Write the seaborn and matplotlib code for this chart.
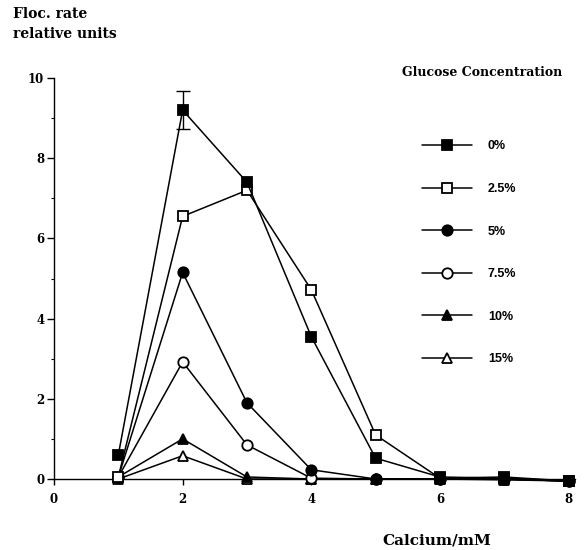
import numpy as np
import pandas as pd
import matplotlib
matplotlib.use("Agg")
import matplotlib.pyplot as plt
from matplotlib.lines import Line2D
import seaborn as sns

sns.set_style("ticks")
plt.rcParams.update({"text.color": "black", "axes.labelcolor": "black",
                     "xtick.color": "black", "ytick.color": "black",
                     "axes.edgecolor": "black"})

calcium = [1, 2, 3, 4, 5, 6, 7, 8]
glucose_labels = ["0%", "2.5%", "5%", "7.5%", "10%", "15%"]
rate_0 = [0.6, 9.2, 7.4, 3.55, 0.52, 0.05, 0.02, -0.05]
rate_2_5 = [0.05, 6.55, 7.2, 4.72, 1.1, 0.02, 0.05, -0.05]
rate_5 = [0.05, 5.15, 1.9, 0.23, 0.0, 0.0, 0.0, -0.05]
rate_7_5 = [0.05, 2.92, 0.85, 0.02, 0.0, 0.0, 0.0, -0.05]
rate_10 = [0.05, 1.0, 0.05, 0.0, 0.0, 0.0, 0.0, -0.05]
rate_15 = [0.0, 0.58, 0.0, 0.0, 0.0, 0.0, -0.02, -0.05]
err_x = [2]
err_y = [9.2]
err_val = [0.47]

series = [rate_0, rate_2_5, rate_5, rate_7_5, rate_10, rate_15]
markers = ["s", "s", "o", "o", "^", "^"]
faces = ["black", "white", "black", "white", "black", "white"]
sizes = [7.5, 7.5, 7.5, 7.5, 7, 7]

rows = []
for lab, vals in zip(glucose_labels, series):
    for c, v in zip(calcium, vals):
        rows.append({"Calcium": c, "Rate": v, "Glucose": lab})
df = pd.DataFrame(rows)

fig = plt.figure(figsize=(5.86, 5.5), dpi=100)
ax = fig.add_axes([54/586, 1-479/550, 521/586, 401/550])

serif = ["DejaVu Serif"]
sans = ["Liberation Sans", "DejaVu Sans"]

order = list(range(len(glucose_labels)))[::-1]
for i in order:
    sub = df[df["Glucose"] == glucose_labels[i]]
    sns.lineplot(data=sub, x="Calcium", y="Rate", ax=ax, color="black",
                 linewidth=1.1, marker=markers[i], markersize=sizes[i],
                 markerfacecolor=faces[i], markeredgecolor="black",
                 markeredgewidth=1.3, clip_on=False, zorder=3 + (5 - i),
                 legend=False)

ax.errorbar(err_x, err_y, yerr=err_val, fmt="none", ecolor="black",
            elinewidth=1.0, capsize=5, capthick=1.0, zorder=2)

ax.set_xlim(0, 8.1)
ax.set_ylim(0, 10)
ax.set_xticks([0, 2, 4, 6, 8])
ax.set_yticks([0, 2, 4, 6, 8, 10])
ax.set_yticks([1, 3, 5, 7, 9], minor=True)
ax.tick_params(axis="y", which="major", length=5, width=1, direction="out",
               labelsize=8.5, pad=2, colors="black")
ax.tick_params(axis="x", which="major", length=4, width=1, direction="out",
               labelsize=8.5, pad=6, colors="black")
ax.tick_params(axis="y", which="minor", length=2.5, width=0.8, colors="black")
for lab in ax.get_xticklabels() + ax.get_yticklabels():
    lab.set_fontfamily(serif)
    lab.set_fontweight("bold")
ax.set_xlabel("")
ax.set_ylabel("")
sns.despine(ax=ax)
for s in ["left", "bottom"]:
    ax.spines[s].set_linewidth(1.0)
    ax.spines[s].set_color("black")

fig.text(13/586, 1-24/550, "Floc. rate\nrelative units", fontsize=10,
         fontweight="bold", family=serif, ha="left", va="center",
         linespacing=1.5, color="black")
fig.text(437/586, 1-541/550, "Calcium/mM", fontsize=11, fontweight="bold",
         family=serif, ha="center", va="center", color="black")
fig.text(482/586, 1-72/550, "Glucose Concentration", fontsize=9,
         fontweight="bold", family=serif, ha="center", va="center",
         color="black")

handles = [Line2D([0], [0], color="black", linewidth=1.1, marker=m,
                  markersize=s, markerfacecolor=f, markeredgecolor="black",
                  markeredgewidth=1.3)
           for m, f, s in zip(markers, faces, sizes)]
leg = fig.legend(handles, glucose_labels, loc="upper left",
                 bbox_to_anchor=(411/586, 1-129/550), frameon=False,
                 handlelength=4.0, labelspacing=2.45, handletextpad=1.25,
                 prop={"family": sans, "weight": "bold", "size": 9})
for t in leg.get_texts():
    t.set_color("black")

fig.savefig("out.png", dpi=100)
